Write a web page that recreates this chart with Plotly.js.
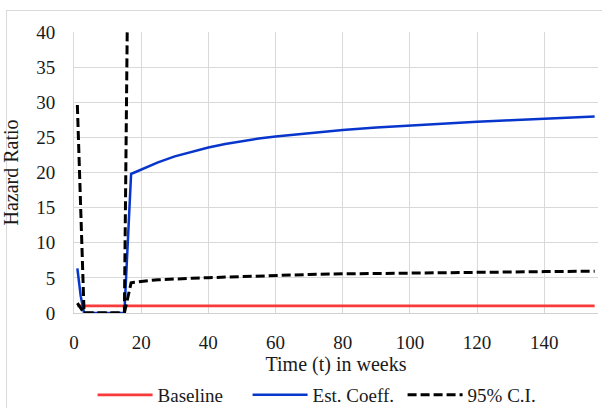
<!DOCTYPE html>
<html>
<head>
<meta charset="utf-8">
<script src="https://cdn.plot.ly/plotly-3.0.1.min.js"></script>
<style>
  html, body { margin: 0; padding: 0; background: #ffffff; }
  #frame { position: absolute; left: 6px; top: 10px; width: 700px; height: 500px; border: 1px solid #d9d9d9; }
  #chart { position: absolute; left: 0; top: 0; width: 602px; height: 408px; }
</style>
</head>
<body>
<div id="frame"></div>
<div id="chart"></div>
<script>
// Time in weeks
const weeks = [1, 2, 3, 15, 16, 17, 18, 20, 22, 25, 30, 35, 40, 45, 50, 55, 60, 70, 80, 90, 100, 110, 120, 130, 140, 150, 155];
// Baseline hazard ratio
const baseline = [1, 1, 1, 1, 1, 1, 1, 1, 1, 1, 1, 1, 1, 1, 1, 1, 1, 1, 1, 1, 1, 1, 1, 1, 1, 1, 1];
// Estimated coefficient (hazard ratio)
const estCoeff = [6.35, 2.4, 0, 0, 9.9, 19.8, 20.0, 20.4, 20.85, 21.45, 22.3, 22.98, 23.55, 24.05, 24.47, 24.83, 25.13, 25.63, 26.05, 26.4, 26.7, 26.97, 27.21, 27.43, 27.65, 27.87, 27.97];
// 95% confidence interval, lower bound
const ciLower = [1.4, 0.6, 0, 0, 2.1, 4.3, 4.38, 4.52, 4.6, 4.72, 4.86, 4.95, 5.03, 5.12, 5.2, 5.28, 5.35, 5.48, 5.57, 5.64, 5.7, 5.75, 5.8, 5.85, 5.89, 5.93, 5.95];
// 95% confidence interval, upper bound (above 40 after week 16, off the visible scale)
const ciUpper = [29.6, 14, 0, 0, 48, 95, 97, 100, 102, 104, 107, 109, 111, 112, 114, 115, 117, 119, 121, 123, 124, 125, 126, 127, 128, 129, 130];

const xTicks = [0, 20, 40, 60, 80, 100, 120, 140];
const yTicks = [0, 5, 10, 15, 20, 25, 30, 35, 40];

const serif = "'Liberation Serif', 'Times New Roman', serif";
const txt = '#1a1a1a';

const traces = [
  { x: weeks, y: baseline, name: 'Baseline', type: 'scatter', mode: 'lines',
    line: { color: '#f83a3a', width: 2.75 } },
  { x: weeks, y: estCoeff, name: 'Est. Coeff.', type: 'scatter', mode: 'lines',
    line: { color: '#0836cc', width: 2.5 } },
  { x: weeks, y: ciLower, name: '95% C.I.', type: 'scatter', mode: 'lines', legendgroup: 'ci',
    line: { color: '#000000', width: 3, dash: '9px,4px' } },
  { x: weeks, y: ciUpper, name: '95% C.I.', type: 'scatter', mode: 'lines', legendgroup: 'ci', showlegend: false,
    line: { color: '#000000', width: 3, dash: '9px,4px' } }
];

const layout = {
  width: 602, height: 408,
  margin: { l: 74, r: 4, t: 32, b: 95 },
  paper_bgcolor: 'rgba(0,0,0,0)',
  plot_bgcolor: '#ffffff',
  font: { family: serif, size: 19, color: txt },
  showlegend: true,
  legend: { orientation: 'h', xref: 'container', yref: 'container', x: 0.54, xanchor: 'center', y: 0.032, yanchor: 'middle',
            itemwidth: 55, entrywidth: 85, entrywidthmode: 'pixels',
            font: { family: serif, size: 19, color: txt }, traceorder: 'normal' },
  xaxis: {
    range: [0, 156], tickvals: xTicks, ticktext: xTicks.map(String), automargin: false,
    showgrid: true, gridcolor: '#d9d9d9', gridwidth: 1,
    zeroline: false, showline: true, linecolor: '#d0d0d0', linewidth: 1,
    ticks: '', ticklabelstandoff: 12,
    tickfont: { family: serif, size: 19, color: txt },
    title: { text: 'Time (t) in weeks', font: { family: serif, size: 20, color: txt }, standoff: 14 }
  },
  yaxis: {
    range: [0, 40], tickvals: yTicks, ticktext: yTicks.map(String), automargin: false,
    showgrid: true, gridcolor: '#d9d9d9', gridwidth: 1,
    zeroline: false, showline: true, linecolor: '#d9d9d9', linewidth: 1,
    ticks: '', ticklabelstandoff: 14,
    tickfont: { family: serif, size: 19, color: txt },
    title: { text: 'Hazard Ratio', font: { family: serif, size: 20, color: txt }, standoff: 12 }
  }
};

Plotly.newPlot('chart', traces, layout, { staticPlot: true, displayModeBar: false });
</script>
</body>
</html>
